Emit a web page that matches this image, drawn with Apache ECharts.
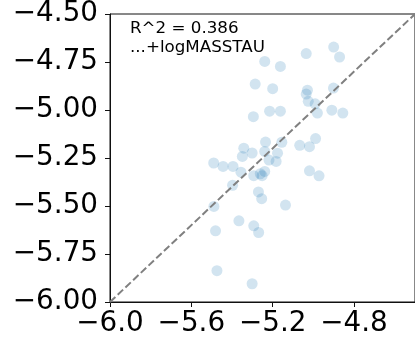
<!DOCTYPE html>
<html>
<head>
<meta charset="utf-8">
<script src="https://cdn.jsdelivr.net/npm/echarts@6/dist/echarts.min.js"></script>
<style>
html,body{margin:0;padding:0;background:#fff;}
#chart{width:415px;height:344px;}
</style>
</head>
<body>
<div id="chart"></div>
<script>
// Observed (x) vs predicted (y) values
var xValues = [-4.900,-4.871,-5.035,-5.239,-5.162,-5.286,-5.200,-5.029,-5.035,-4.901,
  -5.025,-4.991,-4.980,-4.909,-4.855,-5.215,-5.162,-5.295,-4.989,-5.067,
  -5.019,-5.155,-5.235,-5.342,-5.301,-5.349,-5.239,-5.176,-5.218,-5.183,
  -5.490,-5.444,-5.395,-5.356,-5.239,-5.261,-5.293,-5.252,-5.019,-4.972,
  -5.397,-5.270,-5.254,-5.137,-5.489,-5.366,-5.481,-5.293,-5.269,-5.474,-5.301];
var yValues = [-4.672,-4.724,-4.706,-4.747,-4.773,-4.865,-4.889,-4.897,-4.917,-4.886,
  -4.955,-4.968,-5.016,-5.001,-5.016,-5.006,-5.006,-5.035,-5.149,-5.184,
  -5.191,-5.168,-5.167,-5.199,-5.224,-5.242,-5.216,-5.225,-5.261,-5.268,
  -5.276,-5.294,-5.294,-5.324,-5.320,-5.332,-5.342,-5.342,-5.317,-5.343,
  -5.392,-5.427,-5.462,-5.495,-5.502,-5.577,-5.629,-5.603,-5.638,-5.837,-5.905];
var diagonal = [[-6.0,-6.0],[-4.5,-4.5]];
var xTicks = [-6.0,-5.6,-5.2,-4.8];
var yTicks = [-6.00,-5.75,-5.50,-5.25,-5.00,-4.75,-4.50];
var annotationLines = ['R^2 = 0.386', '...+logMASSTAU'];

var points = xValues.map(function(x,i){ return [x, yValues[i]]; });
function fmt(v, d){ return v.toFixed(d).replace('-', '\u2212'); }

var chart = echarts.init(document.getElementById('chart'), null, {renderer:'canvas'});
var font = 'DejaVu Sans';
chart.setOption({
  animation:false,
  backgroundColor:'#fff',
  grid:{left:110, top:14, width:308, height:288, show:true, borderColor:'#111', borderWidth:1, backgroundColor:'transparent'},
  xAxis:{type:'value', min:-6.0, max:-4.5, interval:0.4,
    splitLine:{show:false},
    axisLine:{show:true, lineStyle:{color:'#111', width:1}},
    axisTick:{show:true, length:5, lineStyle:{color:'#111', width:1}},
    axisLabel:{showMaxLabel:false, margin:8, color:'#000', fontFamily:font, fontSize:27.8,
      formatter:function(v){ return fmt(v,1); }}
  },
  yAxis:{type:'value', min:-6.0, max:-4.5, interval:0.25,
    splitLine:{show:false},
    axisLine:{show:true, lineStyle:{color:'#111', width:1}},
    axisTick:{show:true, length:5, lineStyle:{color:'#111', width:1}},
    axisLabel:{margin:12, color:'#000', fontFamily:font, fontSize:27.8,
      formatter:function(v){ return fmt(v,2); }}
  },
  graphic:[
    {type:'text', left:130, top:20, style:{text:annotationLines[0], fontFamily:font, fontSize:16.7, fill:'#000'}},
    {type:'text', left:130, top:39, style:{text:annotationLines[1], fontFamily:font, fontSize:16.7, fill:'#000'}}
  ],
  series:[
    {type:'scatter', data:points, symbol:'circle', symbolSize:11,
      itemStyle:{color:'#1f77b4', opacity:0.2}, emphasis:{disabled:true}},
    {type:'line', data:diagonal, symbol:'none', silent:true,
      lineStyle:{color:'#808080', width:2, type:[7.4,3.2]}, z:3}
  ]
});
</script>
</body>
</html>
